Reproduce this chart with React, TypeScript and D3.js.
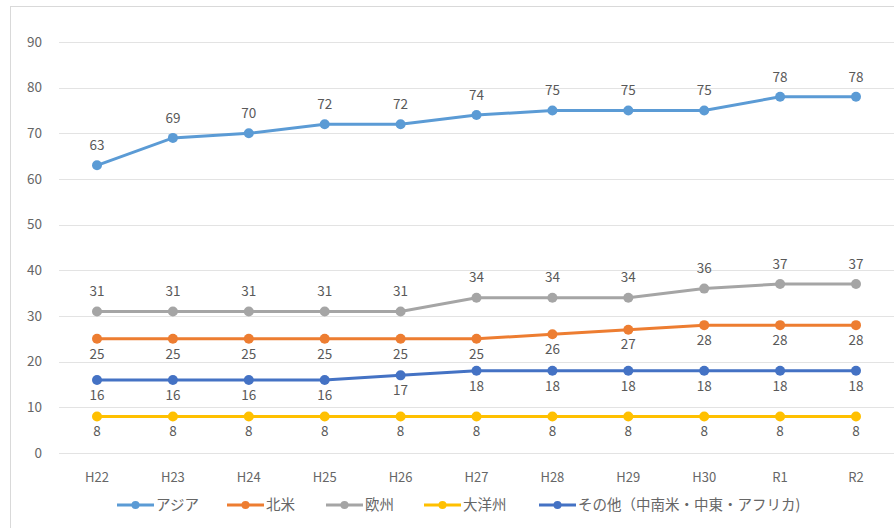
import React, { useEffect, useRef } from "react";
import * as d3 from "d3";

const years = ["H22", "H23", "H24", "H25", "H26", "H27", "H28", "H29", "H30", "R1", "R2"];
const asia = [63, 69, 70, 72, 72, 74, 75, 75, 75, 78, 78];
const northAmerica = [25, 25, 25, 25, 25, 25, 26, 27, 28, 28, 28];
const europe = [31, 31, 31, 31, 31, 34, 34, 34, 36, 37, 37];
const oceania = [8, 8, 8, 8, 8, 8, 8, 8, 8, 8, 8];
const others = [16, 16, 16, 16, 17, 18, 18, 18, 18, 18, 18];

const seriesNames = ["アジア", "北米", "欧州", "大洋州", "その他（中南米・中東・アフリカ)"];
const seriesColors = ["#5B9BD5", "#ED7D31", "#A5A5A5", "#FFC000", "#4472C4"];
const yTicks = [0, 10, 20, 30, 40, 50, 60, 70, 80, 90];

const App = () => {
  const svgRef = useRef<SVGSVGElement | null>(null);
  const width = 894;
  const height = 528;

  useEffect(() => {
    const svg = d3.select(svgRef.current);
    svg.selectAll("*").remove();
    const font = "'Noto Sans CJK JP', 'Noto Sans', sans-serif";

    const series = [
      { name: seriesNames[0], values: asia, color: seriesColors[0], above: true },
      { name: seriesNames[1], values: northAmerica, color: seriesColors[1], above: false },
      { name: seriesNames[2], values: europe, color: seriesColors[2], above: true },
      { name: seriesNames[3], values: oceania, color: seriesColors[3], above: false },
      { name: seriesNames[4], values: others, color: seriesColors[4], above: false },
    ];

    // chart frame
    svg.append("rect")
      .attr("x", 10.5).attr("y", 6.5)
      .attr("width", 900).attr("height", 540)
      .attr("fill", "white")
      .attr("stroke", "#d9d9d9");

    const x = d3.scalePoint().domain(years).range([97, 856]);
    const y = d3.scaleLinear().domain([0, 90]).range([453, 42]);

    // gridlines + y labels
    const grid = svg.append("g");
    grid.selectAll("line")
      .data(yTicks)
      .join("line")
      .attr("x1", 59).attr("x2", 894)
      .attr("y1", d => Math.round(y(d)) + 0.5)
      .attr("y2", d => Math.round(y(d)) + 0.5)
      .attr("stroke", "#e3e3e3");
    grid.selectAll("text")
      .data(yTicks)
      .join("text")
      .attr("x", 42)
      .attr("y", d => y(d))
      .attr("dy", "0.35em")
      .attr("text-anchor", "end")
      .attr("fill", "#666")
      .style("font", `13.5px ${font}`)
      .text(d => d);

    // x labels
    svg.append("g").selectAll("text")
      .data(years)
      .join("text")
      .attr("x", d => x(d)!)
      .attr("y", 477)
      .attr("dy", "0.35em")
      .attr("text-anchor", "middle")
      .attr("fill", "#666")
      .style("font", `13px ${font}`)
      .text(d => d);

    const line = d3.line<number>()
      .x((d, i) => x(years[i])!)
      .y(d => y(d));

    series.forEach(s => {
      const g = svg.append("g");
      g.append("path")
        .datum(s.values)
        .attr("d", line)
        .attr("fill", "none")
        .attr("stroke", s.color)
        .attr("stroke-width", 3);
      g.selectAll("circle")
        .data(s.values)
        .join("circle")
        .attr("cx", (d, i) => x(years[i])!)
        .attr("cy", d => y(d))
        .attr("r", 5)
        .attr("fill", s.color);
      g.selectAll("text")
        .data(s.values)
        .join("text")
        .attr("x", (d, i) => x(years[i])!)
        .attr("y", d => y(d) + (s.above ? -20 : 15))
        .attr("dy", "0.35em")
        .attr("text-anchor", "middle")
        .attr("fill", "#595959")
        .style("font", `13.5px ${font}`)
        .text(d => d);
    });

    // legend
    const legendX = [117, 227, 326, 424, 539];
    const legend = svg.append("g");
    series.forEach((s, i) => {
      const lg = legend.append("g").attr("transform", `translate(${legendX[i]},505)`);
      lg.append("line")
        .attr("x1", 0).attr("x2", 37)
        .attr("stroke", s.color)
        .attr("stroke-width", 3);
      lg.append("circle").attr("cx", 18.5).attr("r", 4).attr("fill", s.color);
      lg.append("text")
        .attr("x", 39)
        .attr("dy", "0.35em")
        .attr("fill", "#666")
        .style("font", `14.5px ${font}`)
        .text(s.name);
    });
  }, []);

  return (
    <svg width={width} height={height} ref={svgRef}
      style={{ position: "absolute", left: 0, top: 0 }}></svg>
  );
};

export default App;
